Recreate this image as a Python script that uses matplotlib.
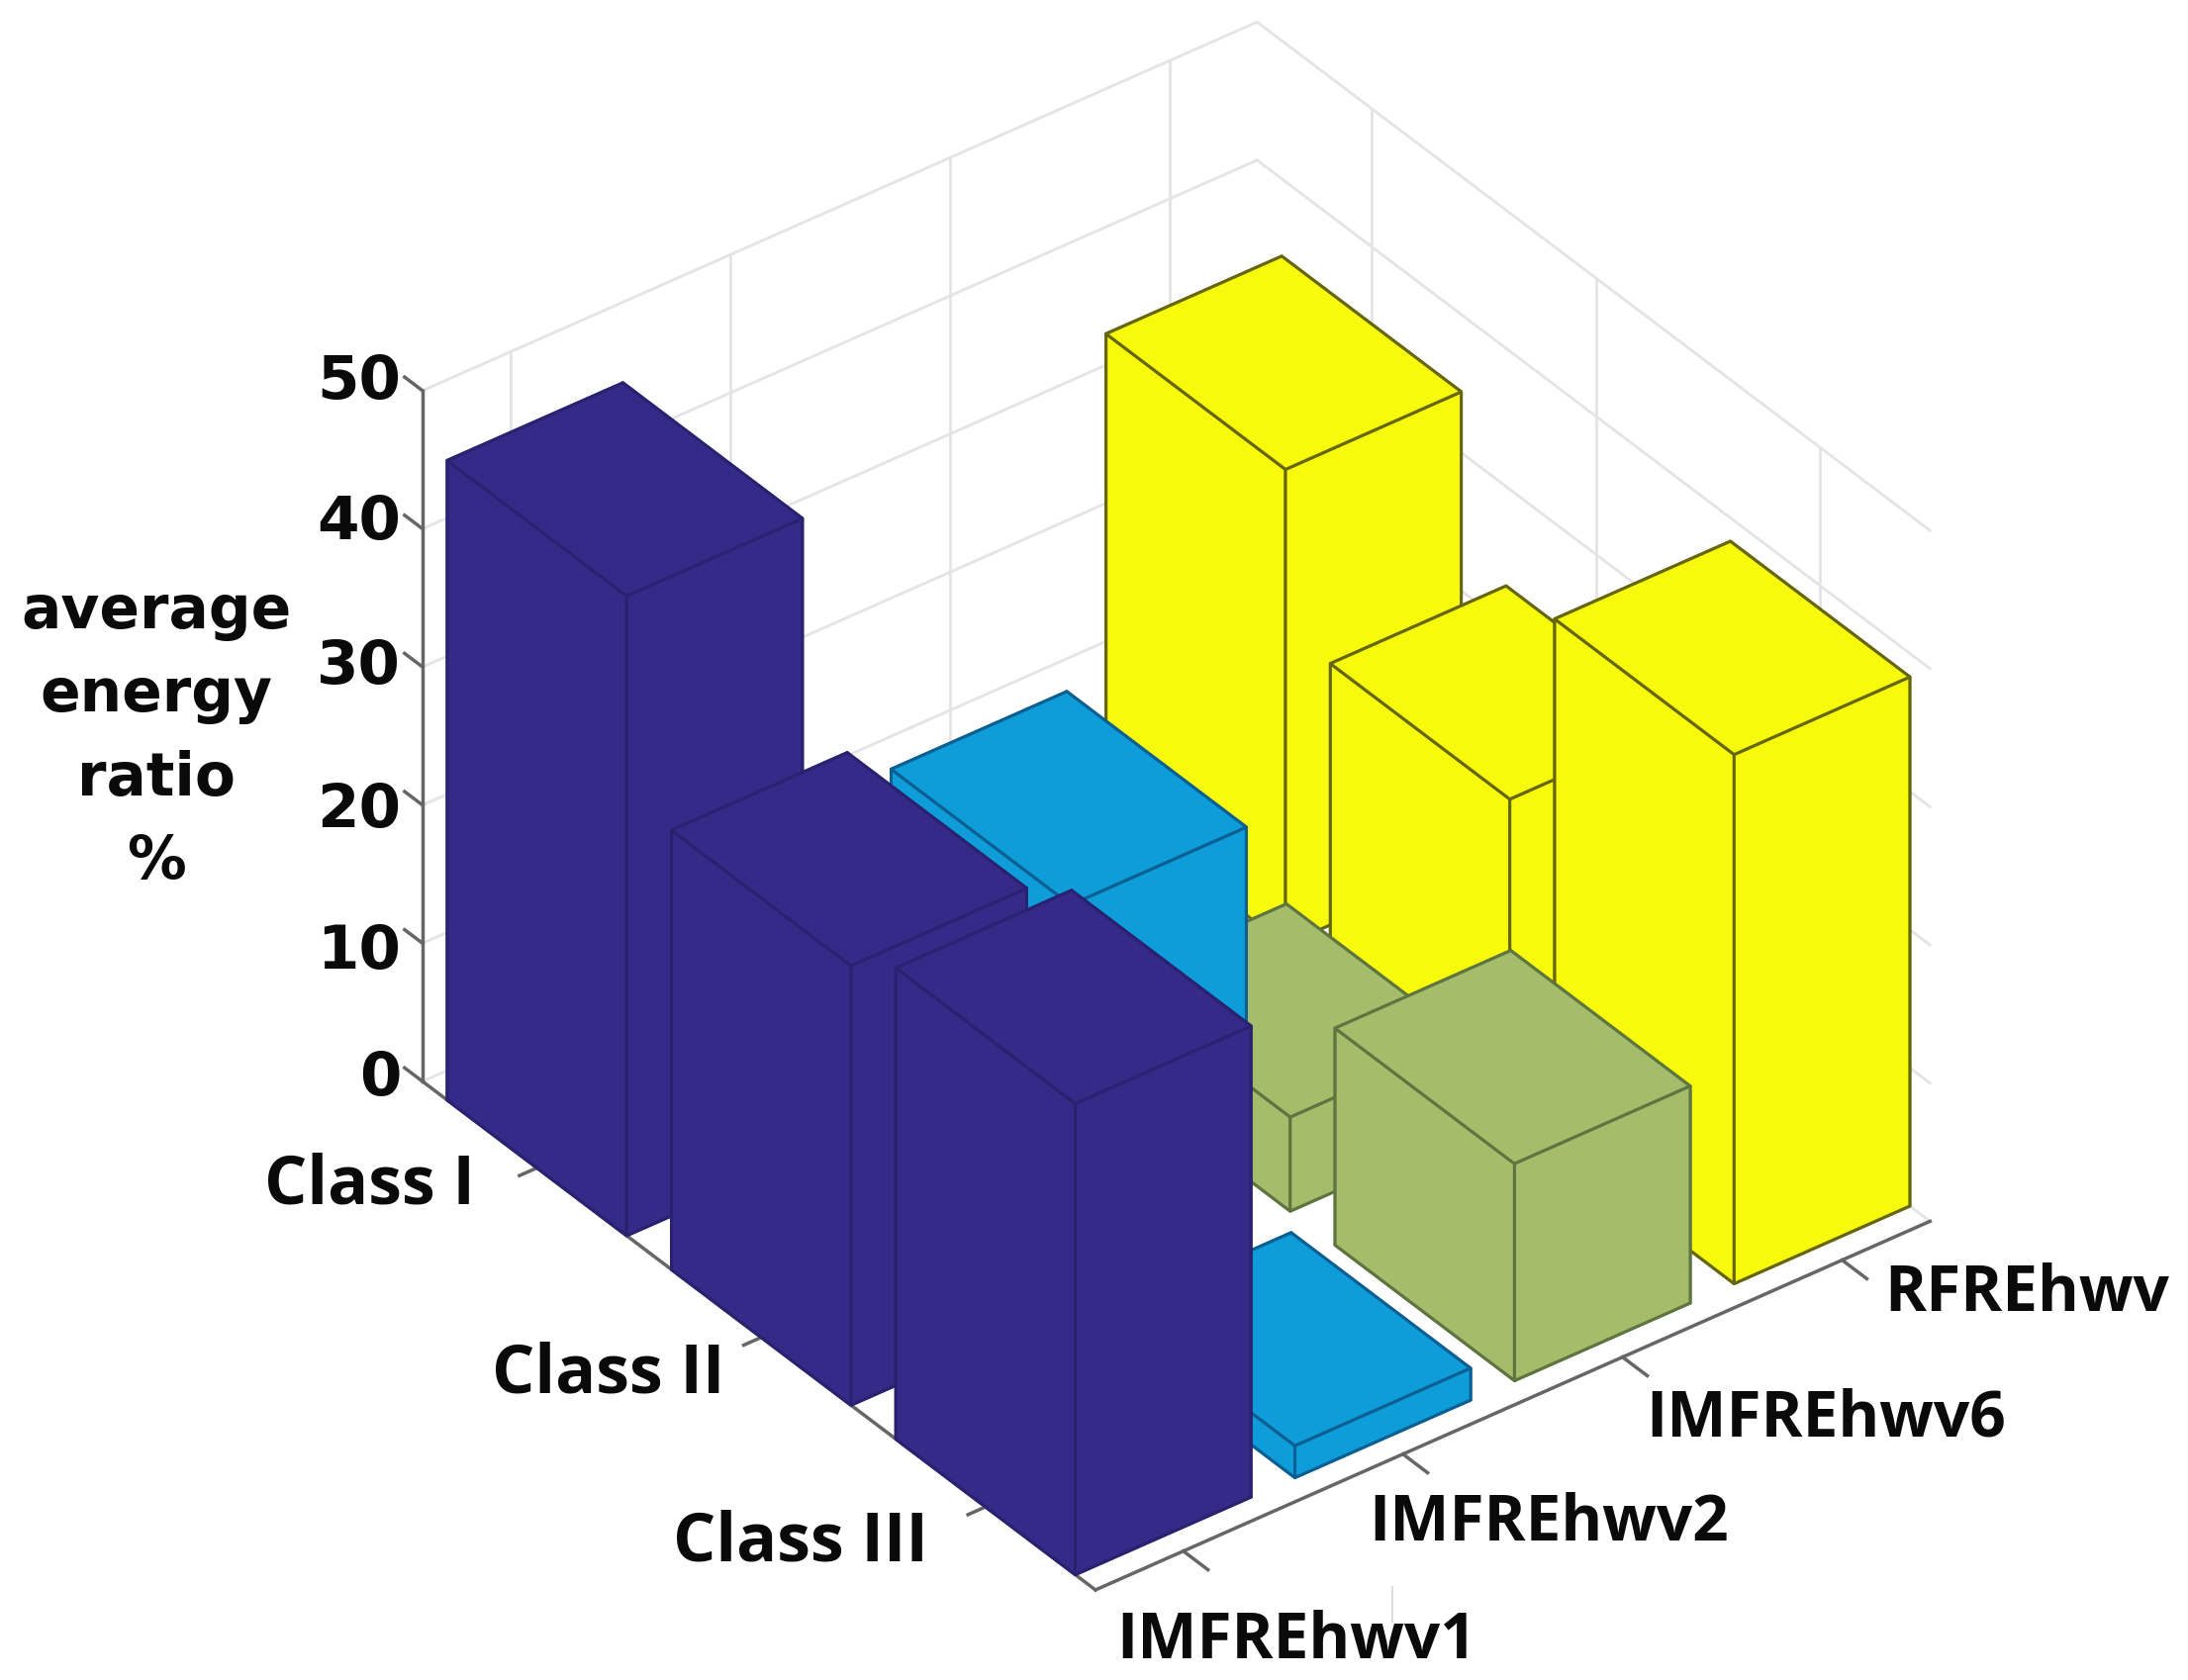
import matplotlib
matplotlib.use("Agg")
import matplotlib.pyplot as plt
from matplotlib.lines import Line2D
from mpl_toolkits.mplot3d import proj3d

W, H = 2211, 1699

classes = ["Class I", "Class II", "Class III"]
categories = ["IMFREhwv1", "IMFREhwv2", "IMFREhwv6", "RFREhwv"]
imf1 = [46.3, 31.8, 34.1]
imf2 = [8.0, 29.2, 2.3]
imf6 = [8.0, 6.8, 15.7]
rfre = [34.4, 22.8, 38.3]
z_ticks = [0, 10, 20, 30, 40, 50]

series = [imf1, imf2, imf6, rfre]
face_colors = ["#352a87", "#0e9dd8", "#a5bc6b", "#f8fa0d"]
edge_colors = ["#2a2170", "#0b5f92", "#5f7540", "#66660f"]

xlim = (0.49, 3.49)
ylim = (0.60, 4.40)
zlim = (0, 50)
bar_w = 0.8

fig = plt.figure(figsize=(W / 100, H / 100), dpi=100)
side = 2500
ax = fig.add_axes([0, 0, side / W, side / H], projection="3d", proj_type="ortho", computed_zorder=False)
ax.view_init(elev=35.3, azim=-37.4)
ax.set_xlim(*xlim, view_margin=0)
ax.set_ylim(*ylim, view_margin=0)
ax.set_zlim(*zlim, view_margin=0)
ax.set_axis_off()
aspect = (1119, 1061, 855)
ax.set_box_aspect(aspect)


def to_px(x, y, z):
    ax.apply_aspect()
    X, Y, _ = proj3d.proj_transform(x, y, z, ax.get_proj())
    return ax.transData.transform((X, Y))


# fit the box on the picture: size from the left-bottom floor edge, then shift
a = to_px(xlim[0], ylim[0], 0)
b = to_px(xlim[1], ylim[0], 0)
ax.set_box_aspect(aspect, zoom=680 / (b[0] - a[0]))
a = to_px(xlim[0], ylim[0], 0)
pos = ax.get_position(original=True)
ax.set_position([pos.x0 + (427 - a[0]) / W, pos.y0 + (H - 1094 - a[1]) / H, pos.width, pos.height])

# back walls
grid_kw = dict(color="#e4e4e6", lw=2, zorder=1)
for z in z_ticks:
    ax.plot([xlim[0], xlim[0]], [ylim[0], ylim[1]], [z, z], **grid_kw)
    ax.plot([xlim[0], xlim[1]], [ylim[1], ylim[1]], [z, z], **grid_kw)
for j in range(len(categories)):
    ax.plot([xlim[0], xlim[0]], [j + 1, j + 1], zlim, **grid_kw)
for i in range(len(classes)):
    ax.plot([i + 1, i + 1], [ylim[1], ylim[1]], zlim, **grid_kw)

# axis lines and ticks
axis_kw = dict(color="#666666", lw=2.5, zorder=1.5)
ax.plot([xlim[0], xlim[1]], [ylim[0], ylim[0]], [0, 0], **axis_kw)
ax.plot([xlim[1], xlim[1]], [ylim[0], ylim[1]], [0, 0], **axis_kw)
ax.plot([xlim[0], xlim[0]], [ylim[0], ylim[0]], zlim, **axis_kw)
for z in z_ticks:
    ax.plot([xlim[0] - 0.08, xlim[0]], [ylim[0], ylim[0]], [z, z], **axis_kw)
for i in range(len(classes)):
    ax.plot([i + 1, i + 1], [ylim[0] - 0.08, ylim[0]], [0, 0], **axis_kw)
for j in range(len(categories)):
    ax.plot([xlim[1], xlim[1] + 0.11], [j + 1, j + 1], [0, 0], **axis_kw)

# far bars first, painter style
order = 2
for i in range(len(classes)):
    for j in reversed(range(len(categories))):
        ax.bar3d(i + 1 - bar_w / 2, j + 1 - bar_w / 2, 0, bar_w, bar_w, series[j][i],
                 color=face_colors[j], edgecolor=edge_colors[j], linewidth=2.2, shade=False, zorder=order)
        order += 1


def label(px, py, s, **kw):
    fig.text(px / W, 1 - py / H, s, **kw)


num_kw = dict(family="DejaVu Sans", weight="bold", fontsize=44, ha="right", va="center", color="#0a0a0a")
z_label_y = [1090, 963, 820, 674, 529, 386]
for z, py in zip(z_ticks, z_label_y):
    label(405, py, str(z), **num_kw)

label(158, 745, "average\nenergy\nratio\n%", family="DejaVu Sans", weight="bold", fontsize=43,
      ha="center", va="center", ma="center", linespacing=1.55, color="#0a0a0a")

class_kw = dict(family="Open Sans", weight="bold", fontsize=49, ha="right", va="center", color="#0a0a0a")
class_right = [480, 732, 938]
class_y = [1199, 1390, 1560]
for s, px, py in zip(classes, class_right, class_y):
    label(px, py, s, **class_kw)

cat_kw = dict(family="Open Sans", weight="bold", fontsize=46, ha="left", va="center", color="#0a0a0a")
cat_left = [1128, 1383, 1663, 1904]
cat_y = [1660, 1541, 1435, 1309]
for s, px, py in zip(categories, cat_left, cat_y):
    label(px, py, s, **cat_kw)

# stray light rule left of the last label in the source image
fig.add_artist(Line2D([1407 / W, 1407 / W], [1 - 1605 / H, 1 - 1640 / H], color="#dddddd", lw=1.5))

fig.savefig("out.png", dpi=100, facecolor="white")
